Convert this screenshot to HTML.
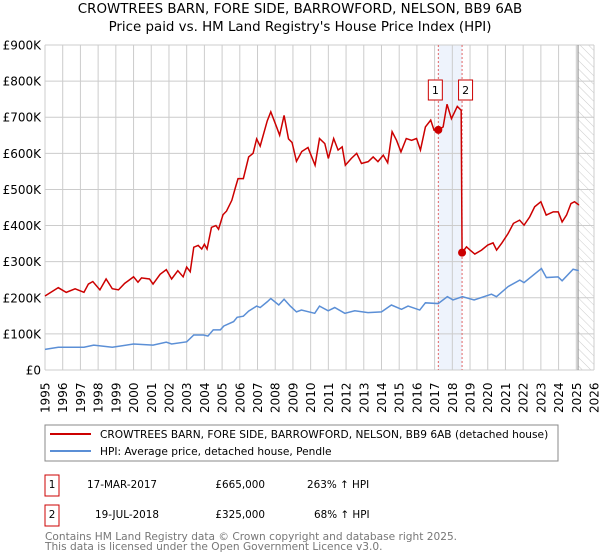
<!DOCTYPE html>
<html><head><meta charset="utf-8"><style>
body{margin:0;background:#fff;width:600px;height:560px;overflow:hidden;font-family:"DejaVu Sans","Liberation Sans",sans-serif;}
svg{display:block}
</style></head><body>
<svg id="c" width="600" height="560" xmlns="http://www.w3.org/2000/svg">
<defs><pattern id="hatch" width="6" height="6" patternUnits="userSpaceOnUse" patternTransform="rotate(-45)"><line x1="0" y1="0" x2="0" y2="6" stroke="#ccc" stroke-width="1"/></pattern></defs>
<text x="300" y="13" text-anchor="middle" font-size="13.4">CROWTREES BARN, FORE SIDE, BARROWFORD, NELSON, BB9 6AB</text>
<text x="300" y="31" text-anchor="middle" font-size="13.4">Price paid vs. HM Land Registry's House Price Index (HPI)</text>
<g id="grid"></g><g id="marks"></g>
<rect x="45" y="425" width="513" height="36" fill="#fff" stroke="#888"/>
<line x1="50" y1="434" x2="91" y2="434" stroke="#cc0000" stroke-width="2"/>
<text x="100" y="438" font-size="10.6">CROWTREES BARN, FORE SIDE, BARROWFORD, NELSON, BB9 6AB (detached house)</text>
<line x1="50" y1="451" x2="91" y2="451" stroke="#5b8fd6" stroke-width="2"/>
<text x="100" y="455" font-size="10.6">HPI: Average price, detached house, Pendle</text>
<g>
<rect x="45" y="475" width="14" height="21" fill="#fff" stroke="#cc0000"/><text x="52" y="488" text-anchor="middle" font-size="10.4">1</text>
<text x="87" y="488" font-size="10.4">17-MAR-2017</text><text x="265" y="488" text-anchor="end" font-size="10.4">£665,000</text><text x="307" y="488" font-size="10.4">263% ↑ HPI</text></g>
<g>
<rect x="45" y="505" width="14" height="21" fill="#fff" stroke="#cc0000"/><text x="52" y="518" text-anchor="middle" font-size="10.4">2</text>
<text x="95" y="518" font-size="10.4">19-JUL-2018</text><text x="265" y="518" text-anchor="end" font-size="10.4">£325,000</text><text x="314" y="518" font-size="10.4">68% ↑ HPI</text></g>
<text x="45" y="540" font-size="10.6" fill="#777">Contains HM Land Registry data © Crown copyright and database right 2025.</text>
<text x="45" y="550" font-size="10.6" fill="#777">This data is licensed under the Open Government Licence v3.0.</text>
</svg>
<script>
const yTicks=[0,100,200,300,400,500,600,700,800,900];
const yTickLabels=["£0","£100K","£200K","£300K","£400K","£500K","£600K","£700K","£800K","£900K"];
const xYears=[1995,1996,1997,1998,1999,2000,2001,2002,2003,2004,2005,2006,2007,2008,2009,2010,2011,2012,2013,2014,2015,2016,2017,2018,2019,2020,2021,2022,2023,2024,2025,2026];
const saleYears=[2017.21,2018.55];
const saleValues=[665,325];
const redYears=[1995.0,1995.75,1996.2,1996.7,1997.2,1997.45,1997.7,1998.1,1998.45,1998.8,1999.15,1999.5,2000.0,2000.25,2000.45,2000.9,2001.1,2001.5,2001.85,2002.15,2002.5,2002.8,2003.0,2003.2,2003.4,2003.65,2003.85,2004.0,2004.15,2004.4,2004.65,2004.8,2005.05,2005.25,2005.55,2005.75,2005.9,2006.2,2006.5,2006.75,2006.95,2007.15,2007.55,2007.75,2008.1,2008.25,2008.5,2008.75,2008.95,2009.2,2009.5,2009.85,2010.25,2010.5,2010.8,2011.0,2011.3,2011.55,2011.78,2011.96,2012.3,2012.6,2012.87,2013.25,2013.53,2013.8,2014.1,2014.35,2014.6,2014.85,2015.1,2015.4,2015.7,2015.98,2016.2,2016.48,2016.78,2016.97,2017.21,2017.48,2017.7,2017.95,2018.28,2018.5,2018.55,2018.8,2019.0,2019.27,2019.65,2020.0,2020.3,2020.5,2020.8,2021.15,2021.45,2021.8,2022.05,2022.37,2022.65,2023.0,2023.3,2023.7,2023.98,2024.2,2024.45,2024.7,2024.9,2025.15];
const redValues=[205,228,215,225,215,238,245,222,252,225,222,240,258,243,255,252,238,265,278,252,275,258,285,272,340,345,335,348,335,395,400,390,430,440,470,505,530,530,590,600,640,620,690,715,670,650,705,640,630,578,605,616,567,641,627,586,641,609,618,567,586,600,572,577,590,577,595,574,660,636,604,641,636,641,609,673,692,664,665,673,736,696,730,719,325,341,332,321,332,346,352,332,352,378,406,415,401,424,452,466,429,438,438,410,429,461,466,457];
const blueYears=[1995.0,1995.75,1997.2,1997.75,1998.8,2000.0,2001.1,2001.85,2002.15,2003.0,2003.4,2003.95,2004.2,2004.5,2004.9,2005.1,2005.65,2005.85,2006.2,2006.5,2006.95,2007.15,2007.55,2007.75,2008.2,2008.5,2008.85,2009.2,2009.48,2010.23,2010.5,2010.99,2011.36,2011.93,2012.49,2013.24,2014.0,2014.56,2015.13,2015.5,2016.16,2016.48,2017.2,2017.72,2018.04,2018.57,2019.23,2020.21,2020.49,2021.15,2021.81,2022.05,2023.03,2023.31,2023.97,2024.2,2024.82,2025.14];
const blueValues=[57,63,63,69,63,72,69,77,72,78,97,97,94,111,111,122,134,146,149,163,177,173,189,198,180,196,177,161,166,157,177,164,173,157,164,159,161,180,168,177,166,186,184,203,194,203,194,210,203,231,249,242,281,256,258,247,279,275];
const X=y=>45+(y-1995)*(549/31), Y=v=>370-v*(325/900);
const NS="http://www.w3.org/2000/svg";
function mk(tag,attrs,parent,txt){const e=document.createElementNS(NS,tag);for(const k in attrs)e.setAttribute(k,attrs[k]);if(txt!==undefined)e.textContent=txt;parent.appendChild(e);return e;}
const g=document.getElementById('grid'), m=document.getElementById('marks');
let sh=mk('rect',{x:X(saleYears[0]),y:Y(900),width:X(saleYears[1])-X(saleYears[0]),height:Y(0)-Y(900),fill:'#eef3fc'},g);


let ht=mk('rect',{x:X(2025.1),y:Y(900),width:X(2026)-X(2025.1),height:Y(0)-Y(900),fill:'url(#hatch)'},g);


yTicks.forEach((v,i)=>{
  const l=mk('line',{x1:45,x2:X(2026),y1:Y(v),y2:Y(v),stroke:'#ccc'},g);
  
  
  const t=mk('text',{x:41,y:Y(v)+4.5,'text-anchor':'end','font-size':12},g,yTickLabels[i]);
  
  
});
xYears.forEach(yr=>{
  const l=mk('line',{x1:X(yr),x2:X(yr),y1:Y(900),y2:Y(0),stroke:'#ccc'},g);
  
  
  const t=mk('text',{x:0,y:0,'font-size':12,transform:`translate(${X(yr)+4.5},${Y(0)+43}) rotate(-90)`},g,String(yr));
  
  
});
const vl=mk('line',{x1:X(2025.1),x2:X(2025.1),y1:Y(900),y2:Y(0),stroke:'#999','stroke-width':1.2},g);


saleYears.forEach(s=>{
  const l=mk('line',{x1:X(s),x2:X(s),y1:Y(900),y2:Y(0),stroke:'#e06666','stroke-dasharray':'2,2'},g);
  
  
});
const bp=mk('polyline',{points:blueYears.map((y,i)=>X(y)+','+Y(blueValues[i])).join(' '),fill:'none',stroke:'#5b8fd6','stroke-width':1.5},m);


const rp=mk('polyline',{points:redYears.map((y,i)=>X(y)+','+Y(redValues[i])).join(' '),fill:'none',stroke:'#cc0000','stroke-width':1.5},m);


saleYears.forEach((s,i)=>{
  const c=mk('circle',{cx:X(s),cy:Y(saleValues[i]),r:4,fill:'#cc0000'},m);
  
  
  const r=mk('rect',{x:X(s)-(i==0?10:3.5),y:80,width:14,height:20,fill:'#fff',stroke:'#cc0000'},m);
  
  
  const t=mk('text',{x:X(s)-(i==0?3:-3.5),y:94,'text-anchor':'middle','font-size':11},m,String(i+1));
  
  
});
</script>
</body></html>
